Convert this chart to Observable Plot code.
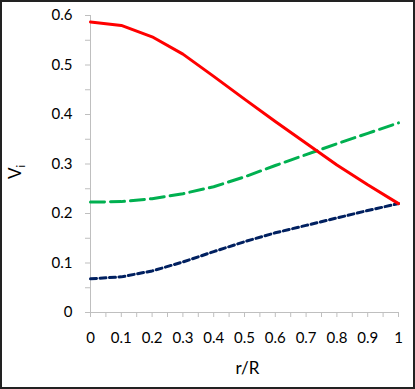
<!DOCTYPE html>
<html>
<head>
<meta charset="utf-8">
<script src="https://cdn.jsdelivr.net/npm/d3@7"></script>
<script src="https://cdn.jsdelivr.net/npm/@observablehq/plot@0.6"></script>
<style>
  html, body { margin: 0; padding: 0; background: #fff; }
  #chart svg { display: block; outline: 2px solid #222; outline-offset: -2px; }
</style>
</head>
<body>
<div id="chart"></div>
<script>
const rR = [0, 0.1, 0.2, 0.3, 0.4, 0.5, 0.6, 0.7, 0.8, 0.9, 1];
const redSeries   = [0.587, 0.580, 0.557, 0.522, 0.477, 0.431, 0.386, 0.342, 0.298, 0.258, 0.220];
const greenSeries = [0.223, 0.224, 0.230, 0.240, 0.254, 0.274, 0.297, 0.319, 0.341, 0.362, 0.383];
const navySeries  = [0.068, 0.072, 0.084, 0.102, 0.123, 0.143, 0.161, 0.176, 0.191, 0.206, 0.220];

const xMajorTicks = [0, 0.1, 0.2, 0.3, 0.4, 0.5, 0.6, 0.7, 0.8, 0.9, 1];
const xTickLabels = ["0", "0.1", "0.2", "0.3", "0.4", "0.5", "0.6", "0.7", "0.8", "0.9", "1"];
const xMinorTicks = [0.05, 0.15, 0.25, 0.35, 0.45, 0.55, 0.65, 0.75, 0.85, 0.95];
const yMajorTicks = [0, 0.1, 0.2, 0.3, 0.4, 0.5, 0.6];
const yTickLabels = ["0", "0.1", "0.2", "0.3", "0.4", "0.5", "0.6"];
const yMinorTicks = [0.05, 0.15, 0.25, 0.35, 0.45, 0.55];

const rows = (vals) => rR.map((x, i) => ({x, y: vals[i]}));
const gray = "#bfbfbf";
const font = "Lato, 'Open Sans', sans-serif";

const chart = Plot.plot({
  width: 415,
  height: 389,
  marginLeft: 90,
  marginRight: 17,
  marginTop: 15,
  marginBottom: 77,
  style: {fontFamily: font, fontSize: "15px", color: "#000", background: "#fff"},
  x: {domain: [0, 1]},
  y: {domain: [0, 0.6]},
  marks: [
    Plot.ruleX([0], {stroke: gray, strokeWidth: 1}),
    Plot.ruleY([0], {stroke: gray, strokeWidth: 1}),
    Plot.axisY(yMajorTicks, {tickSize: 5, tickPadding: 13, stroke: gray, tickFormat: (d, i) => yTickLabels[i], label: null, fill: "#000", fontSize: 15}),
    Plot.axisY(yMinorTicks, {tickSize: 5, text: null, stroke: gray, label: null}),
    Plot.axisX(xMajorTicks, {tickSize: 5, tickPadding: 15, stroke: gray, tickFormat: (d, i) => xTickLabels[i], label: null, fill: "#000", fontSize: 15}),
    Plot.axisX(xMinorTicks, {tickSize: 5, text: null, stroke: gray, label: null}),
    Plot.line(rows(greenSeries), {x: "x", y: "y", stroke: "#00B050", strokeWidth: 3, strokeDasharray: "14,6"}),
    Plot.line(rows(navySeries), {x: "x", y: "y", stroke: "#002060", strokeWidth: 3, strokeDasharray: "6,3.5"}),
    Plot.line(rows(redSeries), {x: "x", y: "y", stroke: "#FF0000", strokeWidth: 3}),
    Plot.text(["r/R"], {frameAnchor: "bottom", dx: 3, dy: 61, fontSize: 17, fill: "#000"})
  ]
});

const svg = d3.select(chart);
const yl = svg.append("text")
  .attr("transform", "translate(21,172) rotate(-90)")
  .attr("text-anchor", "middle")
  .attr("font-family", font)
  .attr("font-size", 17)
  .attr("fill", "#000");
yl.append("tspan").text("V");
yl.append("tspan").attr("font-size", 11).attr("dy", 4).text("i");

document.getElementById("chart").appendChild(chart);
</script>
</body>
</html>
